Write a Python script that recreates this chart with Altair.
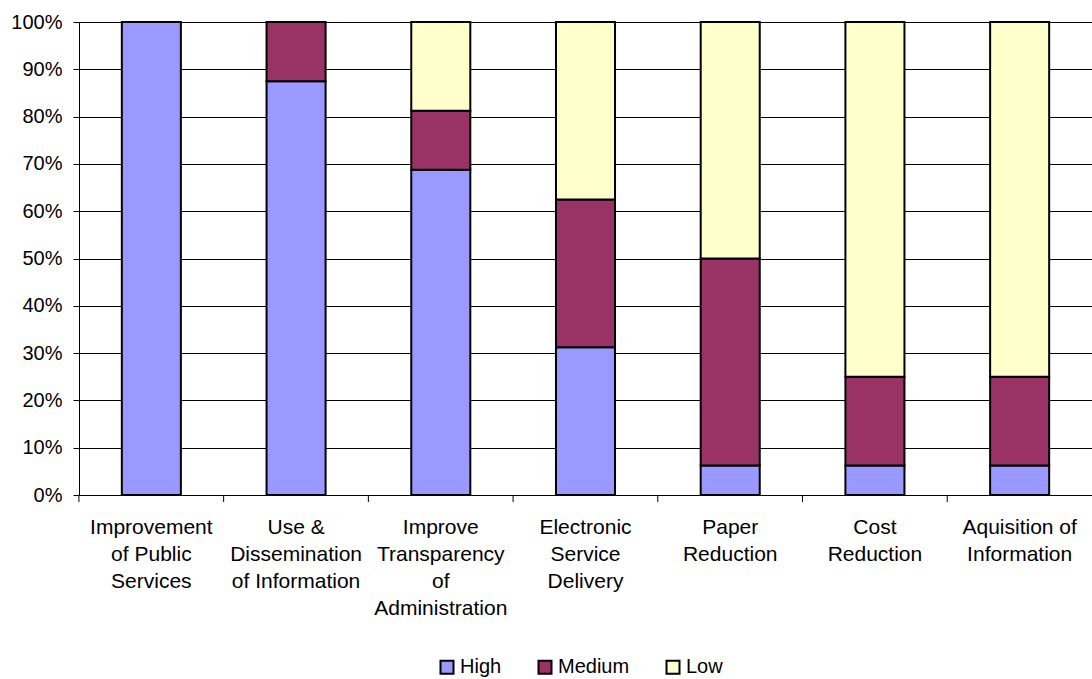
import altair as alt
import pandas as pd

# Categories (line breaks marked with "|") and level shares in percent
categories = [
    "Improvement|of Public|Services",
    "Use &|Dissemination|of Information",
    "Improve|Transparency|of|Administration",
    "Electronic|Service|Delivery",
    "Paper|Reduction",
    "Cost|Reduction",
    "Aquisition of|Information",
]
levels = ["High", "Medium", "Low"]
high = [100, 87.5, 68.75, 31.25, 6.25, 6.25, 6.25]
medium = [0, 12.5, 12.5, 31.25, 43.75, 18.75, 18.75]
low = [0, 0, 18.75, 37.5, 50, 75, 75]
colors = ["#9999FF", "#993366", "#FFFFCC"]

rows = []
for i, cat in enumerate(categories):
    for k, (lvl, series) in enumerate(zip(levels, [high, medium, low])):
        if series[i] > 0:
            rows.append({"category": cat, "level": lvl, "share": series[i], "rank": k})
df = pd.DataFrame(rows)
cats_df = pd.DataFrame({"category": categories})

FONT = "Liberation Sans"
W, H = 1013, 473

x_scale = alt.Scale(domain=categories, paddingInner=0.592, paddingOuter=0.296)

bars = alt.Chart(df).mark_bar(stroke="black", strokeWidth=2).encode(
    x=alt.X(
        "category:N",
        scale=x_scale,
        sort=categories,
        title=None,
        axis=alt.Axis(
            labelAngle=0,
            labelExpr="split(datum.label, '|')",
            labelFont=FONT,
            labelFontSize=21,
            labelColor="black",
            labelLineHeight=27,
            labelPadding=21,
            ticks=False,
            domainColor="black",
            domainWidth=1,
            labelLimit=200,
        ),
    ),
    y=alt.Y(
        "share:Q",
        stack="zero",
        scale=alt.Scale(domain=[0, 100], nice=False),
        title=None,
        axis=alt.Axis(
            values=list(range(0, 101, 10)),
            labelExpr="datum.value + '%'",
            labelFont=FONT,
            labelFontSize=20,
            labelColor="black",
            labelPadding=11,
            tickSize=6,
            tickColor="black",
            domainColor="black",
            gridColor="black",
            gridWidth=1,
            gridOpacity=1,
        ),
    ),
    color=alt.Color(
        "level:N",
        scale=alt.Scale(domain=levels, range=colors),
        legend=alt.Legend(
            title=None,
            orient="none",
            direction="horizontal",
            legendX=358,
            legendY=635,
            symbolType="square",
            symbolSize=169,
            symbolStrokeColor="black",
            symbolStrokeWidth=2,
            symbolOpacity=1,
            labelFont=FONT,
            labelFontSize=20,
            labelColor="black",
            labelOffset=3,
            columnPadding=32,
        ),
    ),
    order=alt.Order("rank:Q", sort="ascending"),
)

# Tick marks at the boundaries between categories
boundary_ticks = alt.Chart(cats_df).mark_rule(color="black", strokeWidth=1, xOffset=-42.9).encode(
    x=alt.X("category:N", scale=x_scale, sort=categories, bandPosition=0),
    y=alt.value(H),
    y2=alt.value(H + 7),
)

chart = (
    alt.layer(bars, boundary_ticks)
    .properties(
        width=W,
        height=H,
        autosize=alt.AutoSizeParams(type="none"),
        padding={"left": 79, "top": 22, "right": 0, "bottom": 184},
        background="white",
    )
    .configure_view(stroke=None)
    .configure_axis(grid=True)
    .configure_axisX(grid=False)
)

chart.save("out.html", embed_options={"renderer": "svg", "actions": False})
